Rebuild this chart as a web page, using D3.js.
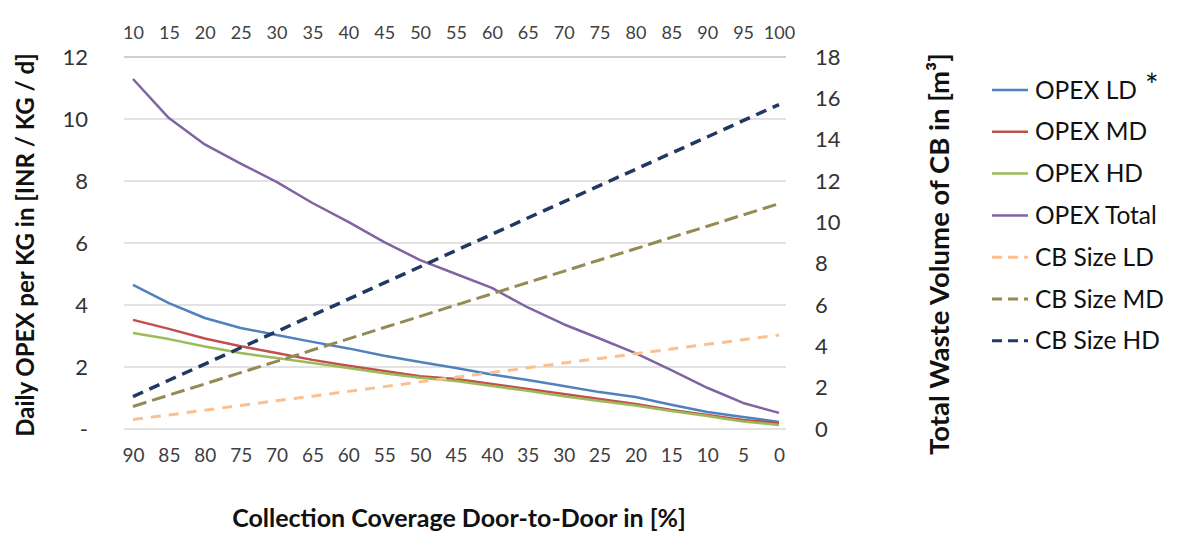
<!DOCTYPE html>
<html><head><meta charset="utf-8">
<script src="https://cdn.jsdelivr.net/npm/d3@7"></script>
<style>body{margin:0;background:#fff}svg{display:block}text{font-family:Lato,"Open Sans",sans-serif}</style>
</head><body><svg id="c" width="1184" height="533"></svg>
<script>
const bottomLabels = ["90","85","80","75","70","65","60","55","50","45","40","35","30","25","20","15","10","5","0"];
const topLabels = ["10","15","20","25","30","35","40","45","50","55","60","65","70","75","80","85","90","95","100"];
const leftTicks = [0,2,4,6,8,10,12];
const rightTicks = [0,2,4,6,8,10,12,14,16,18];

const opexLD = [4.65,4.06,3.58,3.26,3.03,2.81,2.60,2.36,2.16,1.97,1.76,1.58,1.39,1.19,1.03,0.78,0.55,0.39,0.23];
const opexMD = [3.52,3.23,2.92,2.67,2.45,2.23,2.04,1.87,1.70,1.61,1.45,1.29,1.13,0.97,0.81,0.61,0.45,0.29,0.19];
const opexHD = [3.10,2.90,2.66,2.45,2.29,2.13,1.97,1.80,1.65,1.55,1.39,1.23,1.06,0.90,0.76,0.58,0.42,0.24,0.13];
const opexTotal = [11.29,10.03,9.18,8.56,7.97,7.29,6.68,6.03,5.45,5.00,4.55,3.92,3.38,2.92,2.45,1.90,1.33,0.84,0.52];
const cbLD = [0.46,0.68,0.91,1.14,1.37,1.59,1.82,2.05,2.28,2.50,2.73,2.96,3.19,3.41,3.64,3.87,4.10,4.32,4.55];
const cbMD = [1.09,1.64,2.18,2.73,3.27,3.82,4.36,4.91,5.45,6.00,6.54,7.09,7.63,8.18,8.72,9.27,9.81,10.36,10.90];
const cbHD = [1.57,2.36,3.14,3.93,4.71,5.50,6.28,7.07,7.85,8.64,9.42,10.21,10.99,11.78,12.56,13.35,14.13,14.92,15.70];

const series = [
  {name:"OPEX LD", values:opexLD, axis:"L", color:"#4f81bd", w:2.5, dash:null},
  {name:"OPEX MD", values:opexMD, axis:"L", color:"#c0504d", w:2.5, dash:null},
  {name:"OPEX HD", values:opexHD, axis:"L", color:"#9bbb59", w:2.5, dash:null},
  {name:"OPEX Total", values:opexTotal, axis:"L", color:"#8064a2", w:2.5, dash:null},
  {name:"CB Size LD", values:cbLD, axis:"R", color:"#fac090", w:3, dash:"10,8"},
  {name:"CB Size MD", values:cbMD, axis:"R", color:"#948a54", w:3, dash:"14,6"},
  {name:"CB Size HD", values:cbHD, axis:"R", color:"#1f3864", w:3.5, dash:"11,7"}
];

const svg = d3.select("#c");
const gridX0 = 124, gridX1 = 786;
const x = d3.scalePoint().domain(d3.range(bottomLabels.length)).range([133, 779]);
const yL = d3.scaleLinear().domain([0,12]).range([429,57]);
const yR = d3.scaleLinear().domain([0,18]).range([429,57]);

svg.append("g").selectAll("line").data(leftTicks).join("line")
  .attr("x1",gridX0).attr("x2",gridX1)
  .attr("y1",d=>yL(d)).attr("y2",d=>yL(d))
  .attr("stroke",d=>d===12?"#bfbfbf":"#d9d9d9").attr("stroke-width",1.5);

const axL = d3.axisLeft(yL).tickValues(leftTicks).tickSize(0).tickPadding(0)
  .tickFormat(d=>d===0?"-":String(d));
const gL = svg.append("g").attr("transform","translate(88,0)").call(axL);
gL.select(".domain").remove();
gL.selectAll("text").attr("font-size",22).attr("fill","#333").attr("font-family","Lato");

const axR = d3.axisRight(yR).tickValues(rightTicks).tickSize(0).tickPadding(0);
const gR = svg.append("g").attr("transform","translate(815,0)").call(axR);
gR.select(".domain").remove();
gR.selectAll("text").attr("font-size",22).attr("fill","#333").attr("font-family","Lato");

const axB = d3.axisBottom(x).tickSize(0).tickPadding(0).tickFormat(i=>bottomLabels[i]);
const gB = svg.append("g").attr("transform","translate(0,448)").call(axB);
gB.select(".domain").remove();
gB.selectAll("text").attr("font-size",19).attr("fill","#404040").attr("font-family","Lato");

const axT = d3.axisTop(x).tickSize(0).tickPadding(0).tickFormat(i=>topLabels[i]);
const gT = svg.append("g").attr("transform","translate(0,39)").call(axT);
gT.select(".domain").remove();
gT.selectAll("text").attr("font-size",18).attr("fill","#404040").attr("font-family","Lato");

series.forEach(s=>{
  const ys = s.axis==="L"?yL:yR;
  const line = d3.line().x((d,i)=>x(i)).y(d=>ys(d));
  svg.append("path").datum(s.values).attr("d",line)
    .attr("fill","none").attr("stroke",s.color).attr("stroke-width",s.w)
    .attr("stroke-dasharray",s.dash).attr("stroke-linejoin","round");
});

svg.append("text").attr("transform","translate(34,245) rotate(-90)")
  .attr("text-anchor","middle").attr("font-size",24).attr("font-weight","bold").attr("fill","#111")
  .text("Daily OPEX per KG  in [INR / KG / d]");
svg.append("text").attr("transform","translate(949,254) rotate(-90)")
  .attr("text-anchor","middle").attr("font-size",27.5).attr("font-weight","bold").attr("fill","#111")
  .text("Total Waste Volume of CB in [m³]");
svg.append("text").attr("x",459).attr("y",527)
  .attr("text-anchor","middle").attr("font-size",25).attr("font-weight","bold").attr("fill","#111")
  .text("Collection Coverage Door-to-Door in [%]");

const lg = svg.append("g");
series.forEach((s,i)=>{
  const yy = 90 + i*41.8;
  lg.append("line").attr("x1",992).attr("x2",1028).attr("y1",yy).attr("y2",yy)
    .attr("stroke",s.color).attr("stroke-width",s.dash?3:2.5)
    .attr("stroke-dasharray",s.dash?"10,6":null);
  lg.append("text").attr("x",1035).attr("y",yy+8.5).attr("font-size",24.5).attr("fill","#111").text(s.name);
});
lg.append("text").attr("x",1145).attr("y",97).attr("font-size",32).attr("fill","#111").text("*");
</script></body></html>
